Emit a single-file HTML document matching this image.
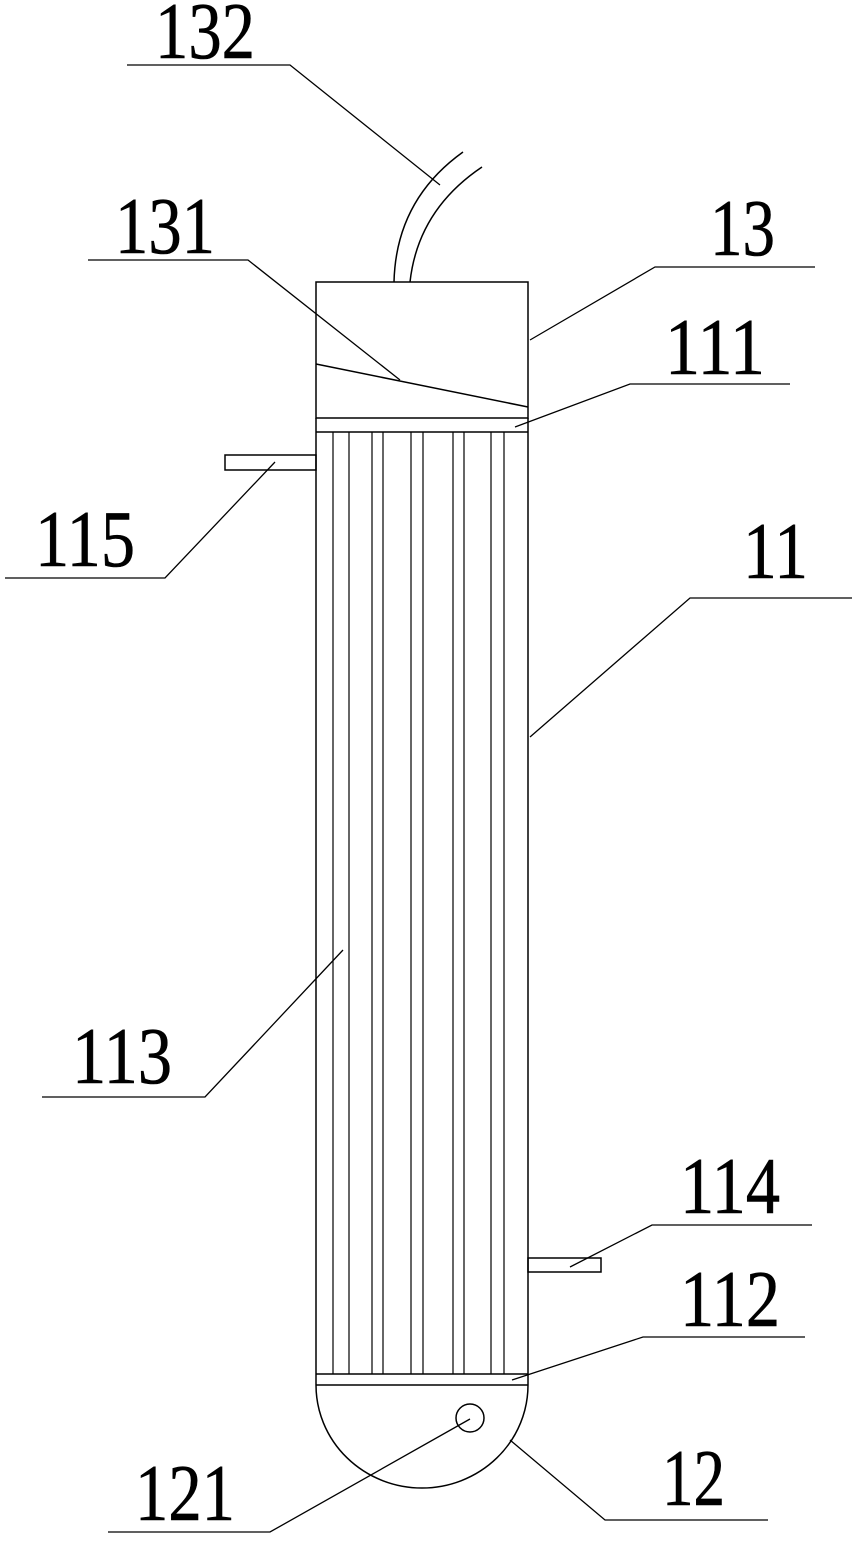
<!DOCTYPE html>
<html><head><meta charset="utf-8"><style>html,body{margin:0;padding:0;background:#fff}svg{display:block}</style></head>
<body>
<svg width="856" height="1541" viewBox="0 0 856 1541" xmlns="http://www.w3.org/2000/svg">
<g fill="none" stroke="#000" stroke-width="1.5">
<path d="M394 282 Q396 200 463 152"/>
<path d="M410 282 Q418 210 482 167"/>
<rect x="316" y="282" width="212" height="136"/>
<line x1="316" y1="364" x2="528" y2="407"/>
<line x1="316" y1="432" x2="528" y2="432"/>
<line x1="316" y1="418" x2="316" y2="1385"/>
<line x1="528" y1="418" x2="528" y2="1385"/>
<g stroke-width="1.2">
<line x1="333" y1="432" x2="333" y2="1374"/>
<line x1="349" y1="432" x2="349" y2="1374"/>
<line x1="372" y1="432" x2="372" y2="1374"/>
<line x1="383" y1="432" x2="383" y2="1374"/>
<line x1="411" y1="432" x2="411" y2="1374"/>
<line x1="423" y1="432" x2="423" y2="1374"/>
<line x1="453" y1="432" x2="453" y2="1374"/>
<line x1="464" y1="432" x2="464" y2="1374"/>
<line x1="491" y1="432" x2="491" y2="1374"/>
<line x1="504" y1="432" x2="504" y2="1374"/>
</g>
<line x1="316" y1="1374" x2="528" y2="1374"/>
<line x1="316" y1="1385" x2="528" y2="1385"/>
<path d="M316 1385 A106 103 0 0 0 528 1385"/>
<circle cx="470" cy="1418" r="14"/>
<rect x="225" y="455" width="91" height="15"/>
<rect x="528" y="1258" width="73" height="14"/>
<g stroke-width="1.3">
<polyline points="127,65 290,65 440,185"/>
<polyline points="88,260 248,260 400,380"/>
<polyline points="815,267 655,267 530,340"/>
<polyline points="790,384 630,384 515,427"/>
<polyline points="5,578 165,578 275,462"/>
<polyline points="852,598 690,598 530,737"/>
<polyline points="42,1097 205,1097 343,950"/>
<polyline points="812,1225 652,1225 570,1267"/>
<polyline points="805,1337 643,1337 512,1380"/>
<polyline points="768,1520 605,1520 510,1440"/>
<polyline points="108,1532 270,1532 470,1419"/>
</g>
</g>
<g font-family="Liberation Serif, serif" font-size="80" fill="#000" stroke="#000" stroke-width="0.6">
<text x="155" y="58" textLength="100" lengthAdjust="spacingAndGlyphs">132</text>
<text x="115" y="253" textLength="100" lengthAdjust="spacingAndGlyphs">131</text>
<text x="710" y="255" textLength="65" lengthAdjust="spacingAndGlyphs">13</text>
<text x="665" y="374" textLength="100" lengthAdjust="spacingAndGlyphs">111</text>
<text x="35" y="566" textLength="100" lengthAdjust="spacingAndGlyphs">115</text>
<text x="743" y="578" textLength="65" lengthAdjust="spacingAndGlyphs">11</text>
<text x="72" y="1083" textLength="100" lengthAdjust="spacingAndGlyphs">113</text>
<text x="680" y="1213" textLength="100" lengthAdjust="spacingAndGlyphs">114</text>
<text x="680" y="1326" textLength="100" lengthAdjust="spacingAndGlyphs">112</text>
<text x="662" y="1505" textLength="63" lengthAdjust="spacingAndGlyphs">12</text>
<text x="135" y="1520" textLength="100" lengthAdjust="spacingAndGlyphs">121</text>
</g>
</svg>
</body></html>
